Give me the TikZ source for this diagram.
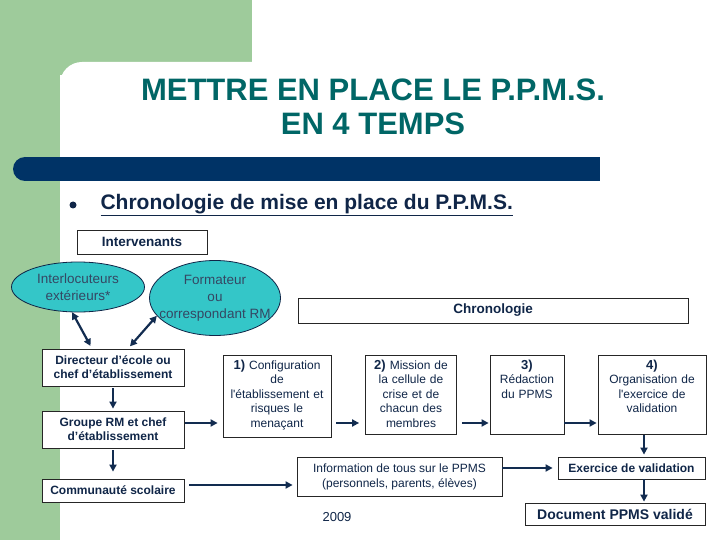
\documentclass[tikz,border=0pt]{standalone}
\usepackage{fontspec}
\setmainfont{Liberation Sans}
\usetikzlibrary{shapes.geometric,arrows.meta,positioning}

\definecolor{gruen}{RGB}{158,203,155}
\definecolor{balkenblau}{RGB}{0,51,102}
\definecolor{textblau}{RGB}{16,38,72}
\definecolor{pfeilblau}{RGB}{18,44,80}
\definecolor{titelgruen}{RGB}{0,102,102}
\definecolor{tuerkis}{RGB}{52,198,200}

\begin{document}
\begin{tikzpicture}[x=1pt, y=-1pt, >={Triangle[length=7pt,width=7pt]},
    kasten/.style={draw=black!85, line width=0.8pt, fill=white, align=center,
        inner sep=3pt, text=textblau, font=\fontsize{12}{14.5}\selectfont},
    fett/.style={kasten, font=\bfseries\fontsize{12}{14}\selectfont},
    zeitbox/.style={kasten, anchor=north, inner ysep=4pt, text height=10pt, text depth=#1},
    blase/.style={ellipse, draw=textblau, line width=0.8pt, fill=tuerkis, align=center,
        inner sep=0pt, text=textblau!85, font=\fontsize{13.5}{17}\selectfont},
    pfeil/.style={->, line width=2.2pt, draw=pfeilblau, fill=pfeilblau}]

    \useasboundingbox (0,0) rectangle (720,540);

    % Hintergrund
    \fill[gruen] (0,0) rectangle (252,75);
    \fill[gruen] (0,0) rectangle (60,540);
    \fill[white, rounded corners=22pt] (60,62) rectangle (800,620);

    % Titel und Balken
    \node[align=center, text=titelgruen, font=\bfseries\fontsize{31}{34}\selectfont] (titel) at (373,107)
        {METTRE EN PLACE LE P.P.M.S.\\EN 4 TEMPS};
    \fill[balkenblau] (25,157) rectangle (600,181);
    \fill[balkenblau] (25,169) circle (12);

    % Aufzaehlungspunkt
    \fill[textblau] (73,205) circle (3.5);
    \node[anchor=west, text=textblau, font=\bfseries\fontsize{21}{24}\selectfont] (untertitel) at (97,205)
        {\underline{Chronologie de mise en place du P.P.M.S.}};

    % Intervenants (linke Spalte)
    \node[fett, minimum width=130pt, minimum height=24pt, font=\bfseries\fontsize{13.5}{15}\selectfont]
        (intervenants) at (142,242) {Intervenants};
    \node[blase, minimum width=133pt, minimum height=50pt] (interlok) at (78,287)
        {Interlocuteurs\\extérieurs*};
    \node[blase, inner xsep=-20pt, minimum width=131pt, minimum height=75pt] (formateur) at (215,298)
        {Formateur\\ou\\correspondant RM};
    \node[fett, minimum width=142pt, minimum height=37pt] (directeur) at (113,367.5)
        {Directeur d’école ou\\chef d’établissement};
    \node[fett, minimum width=142pt, minimum height=37pt] (groupe) at (113,429.5)
        {Groupe RM et chef\\d’établissement};
    \node[fett, minimum width=142pt, minimum height=23pt] (communaute) at (113,490.5)
        {Communauté scolaire};

    % Chronologie
    \node[fett, minimum width=390pt, minimum height=25pt, font=\bfseries\fontsize{13.5}{15}\selectfont]
        (chrono) at (493,310.5) {Chronologie};
    \node[zeitbox=64pt, text width=100pt, minimum width=108pt] (temps1) at (277,355)
        {{\bfseries\fontsize{13}{14.5}\selectfont 1)} Configuration\\de\\l\textquotesingle établissement et\\risques le\\menaçant};
    \node[zeitbox=61pt, text width=84pt, minimum width=91pt] (temps2) at (411,355)
        {{\bfseries\fontsize{13}{14.5}\selectfont 2)} Mission de\\la cellule de\\crise et de\\chacun des\\membres};
    \node[zeitbox=61pt, text width=68pt, minimum width=74pt] (temps3) at (527,355)
        {{\bfseries\fontsize{13}{14.5}\selectfont 3)}\\Rédaction\\du PPMS};
    \node[zeitbox=61pt, text width=100pt, minimum width=108pt] (temps4) at (652,355)
        {{\bfseries\fontsize{13}{14.5}\selectfont 4)}\\Organisation de\\l\textquotesingle exercice de\\validation};

    % untere Reihe
    \node[kasten, minimum width=205pt, minimum height=39pt, font=\fontsize{12}{15}\selectfont]
        (information) at (399.5,476.5) {Information de tous sur le PPMS\\(personnels, parents, élèves)};
    \node[fett, minimum width=147pt, minimum height=22pt] (exercice) at (631.5,468) {Exercice de validation};
    \node[fett, minimum width=180pt, minimum height=22pt, font=\bfseries\fontsize{14}{16}\selectfont]
        (document) at (615,514) {Document PPMS validé};
    \node[text=textblau, font=\fontsize{13}{15}\selectfont] (jahr) at (337,517) {2009};

    % Pfeile
    \coordinate (pfeilhoehe) at (0,423);
    \coordinate (pfeilunten) at (0,485);
    \draw[pfeil, <->, shorten <=3pt] ([xshift=-21pt]directeur.north) -- (interlok.257);
    \draw[pfeil, <->, shorten <=3pt] ([xshift=15pt]directeur.north) -- (formateur.197);
    \draw[pfeil, shorten <=2pt, shorten >=2pt] (directeur) -- (groupe);
    \draw[pfeil, shorten <=2pt, shorten >=7pt] (groupe) -- (communaute);
    \draw[pfeil, shorten <=1pt, shorten >=5pt] (groupe.east |- pfeilhoehe) -- (temps1.west |- pfeilhoehe);
    \draw[pfeil, shorten <=5pt, shorten >=6pt] (temps1.east |- pfeilhoehe) -- (temps2.west |- pfeilhoehe);
    \draw[pfeil, shorten <=5pt, shorten >=1pt] (temps2.east |- pfeilhoehe) -- (temps3.west |- pfeilhoehe);
    \draw[pfeil, shorten >=1pt] (temps3.east |- pfeilhoehe) -- (temps4.west |- pfeilhoehe);
    \draw[pfeil, shorten >=2pt] ([xshift=-8pt]temps4.south) -- ([xshift=-8pt]temps4.south |- exercice.north);
    \draw[pfeil, shorten >=1pt] ([xshift=12.5pt]exercice.south) -- ([xshift=12.5pt]exercice.south |- document.north);
    \draw[pfeil, shorten >=5pt] (information.east |- exercice.west) -- (exercice.west);
    \draw[pfeil, <-, shorten <=4pt, shorten >=5pt]
        (information.west |- pfeilunten) -- (communaute.east |- pfeilunten);

\end{tikzpicture}
\end{document}
